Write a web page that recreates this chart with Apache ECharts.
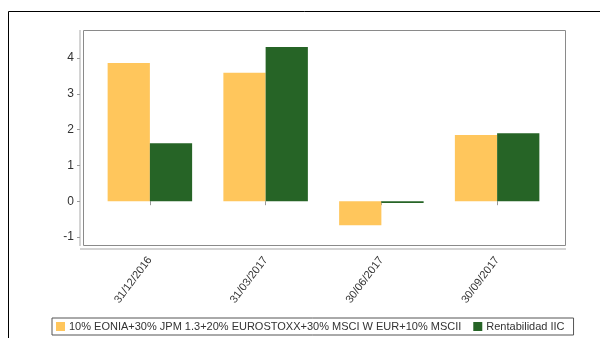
<!DOCTYPE html>
<html>
<head>
<meta charset="utf-8">
<script src="https://cdn.jsdelivr.net/npm/echarts@6/dist/echarts.min.js"></script>
<style>
  html, body { margin: 0; padding: 0; background: #fff; }
  #chart { width: 600px; height: 338px; }
</style>
</head>
<body>
<div id="chart"></div>
<script>
// fechas del trimestre
var fechas = ['31/12/2016', '31/03/2017', '30/06/2017', '30/09/2017'];
// rentabilidades (%)
var benchmark = [3.86, 3.59, -0.67, 1.85];
var rentabilidadIIC = [1.62, 4.31, -0.05, 1.90];
var nombreBenchmark = '10% EONIA+30% JPM 1.3+20% EUROSTOXX+30% MSCI W EUR+10% MSCII';
var nombreIIC = 'Rentabilidad IIC';

var myChart = echarts.init(document.getElementById('chart'));
myChart.setOption({
  animation: false,
  textStyle: { fontFamily: 'Liberation Sans, Arial, sans-serif' },
  color: ['#ffc65c', '#266426'],
  graphic: [
    // marco exterior
    { type: 'rect', shape: { x: 8.5, y: 11.5, width: 600, height: 340 }, style: { fill: 'none', stroke: '#000', lineWidth: 1 } },
    // caja del area de trazado
    { type: 'rect', shape: { x: 83.5, y: 30.5, width: 482, height: 215 }, style: { fill: 'none', stroke: '#8a8a8a', lineWidth: 1 } },
    // ejes
    { type: 'line', shape: { x1: 80, y1: 30, x2: 80, y2: 246 }, style: { stroke: '#d4d4d4', lineWidth: 2 } },
    { type: 'line', shape: { x1: 80, y1: 249, x2: 566, y2: 249 }, style: { stroke: '#d4d4d4', lineWidth: 2 } }
  ],
  legend: {
    left: 52,
    top: 318,
    itemWidth: 9,
    itemHeight: 9,
    itemGap: 12,
    padding: [3, 9, 3, 4],
    borderColor: '#555',
    borderWidth: 1,
    icon: 'rect',
    textStyle: { fontSize: 11, color: '#333', padding: [0, 0, 0, -1] },
    data: [nombreBenchmark, nombreIIC]
  },
  grid: {
    left: 92,
    right: 45,
    top: 58,
    bottom: 101
  },
  xAxis: {
    type: 'category',
    data: fechas,
    offset: 12,
    axisLine: { show: false },
    axisTick: { show: true, alignWithLabel: true, length: 4, lineStyle: { color: '#999' } },
    axisLabel: { rotate: 53, fontSize: 11, color: '#333', margin: 9 }
  },
  yAxis: {
    type: 'value',
    min: -1,
    max: 4,
    interval: 1,
    offset: 12,
    splitLine: { show: false },
    axisLine: { show: false },
    axisTick: { show: true, length: 3, lineStyle: { color: '#999' } },
    axisLabel: { fontSize: 12, color: '#333', margin: 6 }
  },
  series: [
    {
      name: nombreBenchmark,
      type: 'bar',
      data: benchmark,
      barGap: '0%',
      barCategoryGap: '27%',
      clip: false
    },
    {
      name: nombreIIC,
      type: 'bar',
      data: rentabilidadIIC,
      clip: false
    }
  ]
});
</script>
</body>
</html>
